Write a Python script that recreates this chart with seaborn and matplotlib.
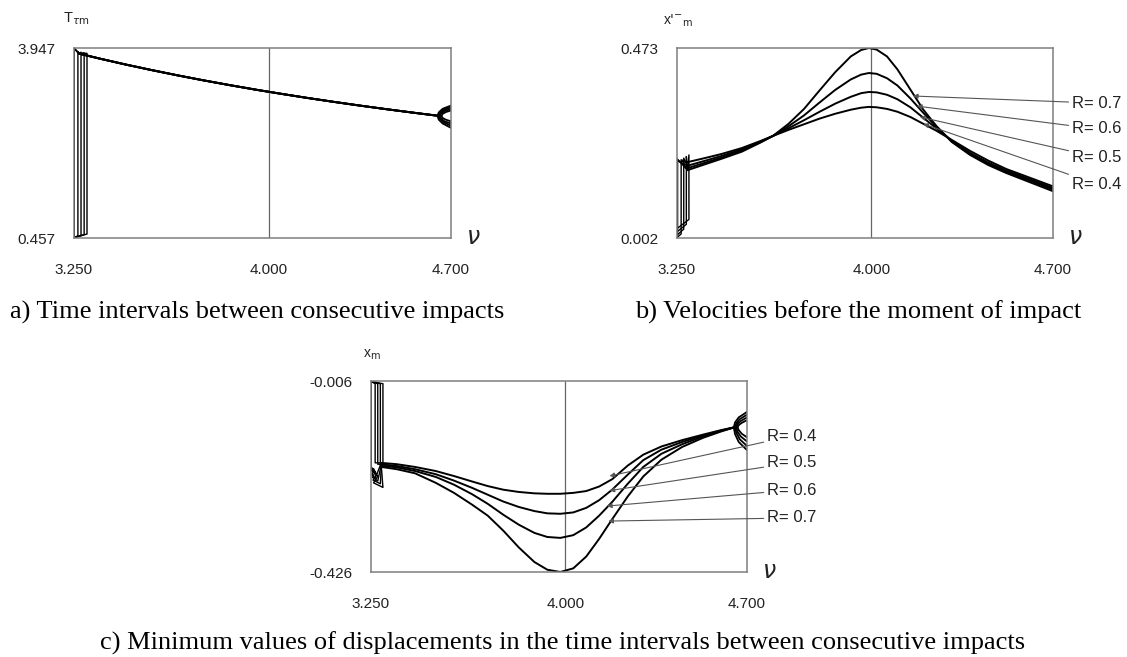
import numpy as np
import pandas as pd
import matplotlib
matplotlib.use("Agg")
import matplotlib.pyplot as plt
import seaborn as sns

sns.set_theme(style="white")
plt.rcParams['font.family'] = ['Liberation Sans', 'DejaVu Sans']

R_values = [0.4, 0.5, 0.6, 0.7]
R_labels = ["R= 0.4", "R= 0.5", "R= 0.6", "R= 0.7"]

# ---------- panel a : time intervals ----------
a_xticks = [3.25, 4.0, 4.7]
a_xticklabels = ["3.250", "4.000", "4.700"]
a_yticks = [0.457, 3.947]
a_yticklabels = ["0.457", "3.947"]
a_nu = [3.27, 3.35, 3.45, 3.55, 3.65, 3.75, 3.85, 3.95, 4.05, 4.15, 4.25, 4.35, 4.45, 4.55, 4.65]
a_T = [3.843, 3.751, 3.642, 3.540, 3.443, 3.351, 3.264, 3.181, 3.103, 3.028, 2.957, 2.889, 2.824, 2.762, 2.702]
# left fold loops (one per R)
a_loop_nu = [[3.270, 3.265, 3.265, 3.2505, 3.2505, 3.270],
             [3.270, 3.277, 3.277, 3.2505, 3.2505, 3.270],
             [3.270, 3.289, 3.289, 3.2505, 3.2505, 3.270],
             [3.270, 3.300, 3.300, 3.2505, 3.2505, 3.270]]
a_loop_T = [[3.843, 3.88, 0.50, 0.460, 3.940, 3.843],
            [3.843, 3.87, 0.51, 0.460, 3.940, 3.843],
            [3.843, 3.86, 0.52, 0.460, 3.940, 3.843],
            [3.843, 3.85, 0.53, 0.460, 3.940, 3.843]]
# right end arcs (one per R)
a_arc_nu = [[4.700, 4.680, 4.667, 4.664, 4.667, 4.680, 4.700],
            [4.700, 4.675, 4.662, 4.658, 4.662, 4.675, 4.700],
            [4.700, 4.672, 4.658, 4.653, 4.658, 4.672, 4.700],
            [4.700, 4.668, 4.653, 4.648, 4.653, 4.668, 4.700]]
a_arc_T = [[2.80, 2.77, 2.735, 2.70, 2.665, 2.63, 2.60],
           [2.83, 2.79, 2.745, 2.70, 2.650, 2.60, 2.56],
           [2.86, 2.81, 2.755, 2.70, 2.640, 2.58, 2.52],
           [2.89, 2.83, 2.765, 2.70, 2.630, 2.56, 2.48]]

# ---------- panel b : velocities ----------
b_yticks = [0.002, 0.473]
b_yticklabels = ["0.002", "0.473"]
b_nu = [3.29, 3.35, 3.42, 3.50, 3.57, 3.62, 3.68, 3.74, 3.80, 3.86, 3.92, 3.96, 3.99,
        4.02, 4.06, 4.10, 4.15, 4.20, 4.25, 4.31, 4.38, 4.45, 4.52, 4.60, 4.70]
b_R04 = [0.190, 0.199, 0.210, 0.225, 0.242, 0.255, 0.270, 0.284, 0.298, 0.310, 0.320, 0.325, 0.327,
         0.326, 0.322, 0.315, 0.302, 0.285, 0.268, 0.245, 0.218, 0.194, 0.173, 0.154, 0.130]
b_R05 = [0.181, 0.192, 0.205, 0.222, 0.240, 0.255, 0.274, 0.294, 0.315, 0.335, 0.352, 0.361, 0.364,
         0.363, 0.357, 0.346, 0.326, 0.300, 0.274, 0.243, 0.213, 0.189, 0.169, 0.150, 0.126]
b_R06 = [0.175, 0.187, 0.201, 0.219, 0.239, 0.255, 0.279, 0.306, 0.338, 0.369, 0.395, 0.407, 0.411,
         0.409, 0.398, 0.380, 0.348, 0.312, 0.278, 0.241, 0.210, 0.186, 0.166, 0.147, 0.122]
b_R07 = [0.170, 0.183, 0.198, 0.216, 0.238, 0.255, 0.285, 0.322, 0.368, 0.413, 0.452, 0.468, 0.473,
         0.469, 0.452, 0.420, 0.370, 0.320, 0.280, 0.240, 0.208, 0.183, 0.163, 0.143, 0.118]
b_loop_nu = [[3.29, 3.266, 3.266, 3.2515, 3.2515, 3.29],
             [3.29, 3.276, 3.276, 3.2515, 3.2515, 3.29],
             [3.29, 3.286, 3.286, 3.2515, 3.2515, 3.29],
             [3.29, 3.296, 3.296, 3.2515, 3.2515, 3.29]]
b_loop_v = [[0.190, 0.196, 0.012, 0.004, 0.192, 0.190],
            [0.181, 0.200, 0.024, 0.010, 0.194, 0.181],
            [0.175, 0.204, 0.036, 0.018, 0.196, 0.175],
            [0.170, 0.208, 0.048, 0.026, 0.198, 0.170]]
b_label_tip_nu = [4.20, 4.187, 4.175, 4.16]
b_label_tip_v = [0.285, 0.302, 0.329, 0.354]
b_label_y = [0.284, 0.426, 0.574, 0.710]

# ---------- panel c : displacements ----------
c_yticks = [-0.426, -0.006]
c_yticklabels = ["-0.426", "-0.006"]
c_nu = [3.29, 3.35, 3.42, 3.50, 3.57, 3.64, 3.70, 3.76, 3.82, 3.88, 3.93, 3.98,
        4.03, 4.08, 4.13, 4.18, 4.24, 4.30, 4.37, 4.45, 4.53, 4.60, 4.65]
c_R04 = [-0.186, -0.189, -0.195, -0.204, -0.215, -0.227, -0.237, -0.245, -0.250, -0.253, -0.254, -0.254,
         -0.252, -0.248, -0.238, -0.222, -0.192, -0.168, -0.150, -0.136, -0.124, -0.114, -0.108]
c_R05 = [-0.189, -0.193, -0.200, -0.211, -0.225, -0.241, -0.256, -0.271, -0.283, -0.292, -0.297, -0.298,
         -0.295, -0.285, -0.268, -0.245, -0.212, -0.180, -0.157, -0.140, -0.126, -0.115, -0.108]
c_R06 = [-0.192, -0.196, -0.204, -0.217, -0.234, -0.255, -0.276, -0.300, -0.322, -0.340, -0.349, -0.351,
         -0.345, -0.328, -0.302, -0.272, -0.232, -0.195, -0.166, -0.145, -0.128, -0.116, -0.108]
c_R07 = [-0.195, -0.200, -0.209, -0.230, -0.252, -0.278, -0.302, -0.335, -0.372, -0.404, -0.421, -0.426,
         -0.418, -0.392, -0.353, -0.310, -0.260, -0.216, -0.179, -0.151, -0.131, -0.117, -0.108]
c_loop_nu = [[3.29, 3.266, 3.266, 3.2505, 3.2505, 3.262, 3.254, 3.266, 3.29],
             [3.29, 3.276, 3.276, 3.2505, 3.2505, 3.267, 3.256, 3.276, 3.29],
             [3.29, 3.286, 3.286, 3.2505, 3.2505, 3.272, 3.258, 3.286, 3.29],
             [3.29, 3.296, 3.296, 3.2505, 3.2505, 3.277, 3.260, 3.296, 3.29]]
c_loop_v = [[-0.186, -0.186, -0.012, -0.007, -0.196, -0.200, -0.212, -0.220, -0.186],
            [-0.189, -0.189, -0.012, -0.007, -0.198, -0.205, -0.218, -0.226, -0.189],
            [-0.192, -0.192, -0.012, -0.007, -0.200, -0.210, -0.224, -0.232, -0.192],
            [-0.195, -0.195, -0.012, -0.007, -0.202, -0.215, -0.230, -0.240, -0.195]]
c_arc_nu = [[4.700, 4.680, 4.668, 4.664, 4.668, 4.680, 4.700],
            [4.700, 4.676, 4.663, 4.659, 4.663, 4.676, 4.700],
            [4.700, 4.672, 4.659, 4.654, 4.659, 4.672, 4.700],
            [4.700, 4.668, 4.654, 4.649, 4.654, 4.668, 4.700]]
c_arc_v = [[-0.092, -0.098, -0.103, -0.108, -0.114, -0.122, -0.130],
           [-0.086, -0.094, -0.101, -0.108, -0.117, -0.128, -0.139],
           [-0.080, -0.090, -0.099, -0.108, -0.120, -0.134, -0.149],
           [-0.074, -0.086, -0.097, -0.108, -0.123, -0.140, -0.158]]
c_label_tip_nu = [4.17, 4.17, 4.16, 4.165]
c_label_tip_v = [-0.215, -0.247, -0.281, -0.314]
c_label_y = [0.712, 0.571, 0.429, 0.283]

captions = ["a) Time intervals between consecutive impacts",
            "b) Velocities before the moment of impact",
            "c) Minimum values of displacements in the time intervals between consecutive impacts"]

W, H = 1127, 657
fig = plt.figure(figsize=(W / 100, H / 100), dpi=100)


def px_axes(l, r, t, b):
    return fig.add_axes([l / W, 1 - b / H, (r - l) / W, (b - t) / H])


ax_a = px_axes(74, 451, 48, 238)
ax_b = px_axes(677, 1053, 48, 238)
ax_c = px_axes(371, 747, 381, 572)

LINE = dict(color="black", sort=False, estimator=None, legend=False)


def draw(ax, x, y, lw=1.4):
    sns.lineplot(x=x, y=y, ax=ax, lw=lw, **LINE)


def style(ax, yticks, yticklabels, ylim):
    ax.set_xlim(3.25, 4.70)
    ax.set_ylim(*ylim)
    ax.set_xticks(a_xticks)
    ax.set_xticklabels(a_xticklabels)
    ax.set_yticks(yticks)
    ax.set_yticklabels(yticklabels)
    ax.tick_params(axis="x", length=0, pad=18, labelsize=11, colors="#222222")
    ax.tick_params(axis="y", length=0, pad=13.5, labelsize=11, colors="#222222")
    ax.set_xlabel("")
    ax.set_ylabel("")
    for s in ax.spines.values():
        s.set_color("#7f7f7f")
        s.set_linewidth(1.1)
    ax.axvline(4.0, color="#666666", lw=0.9, zorder=0)
    ax.text(1.04, 0.0, r"$\nu$", transform=ax.transAxes, fontsize=17,
            ha="left", va="center", color="#222222")


# panel a
for i in range(4):
    draw(ax_a, a_nu, a_T)
    draw(ax_a, a_loop_nu[i], a_loop_T[i], lw=1.0)
    draw(ax_a, a_arc_nu[i], a_arc_T[i], lw=1.3)
style(ax_a, a_yticks, a_yticklabels, (0.457, 3.947))
ax_a.text(-0.03, 1.155, r"T$_{\tau\mathrm{m}}$", transform=ax_a.transAxes, fontsize=10.5,
          ha="left", va="center", color="#222222")

# panel b
b_curves = [b_R04, b_R05, b_R06, b_R07]
for i in range(4):
    draw(ax_b, b_nu, b_curves[i])
    draw(ax_b, b_loop_nu[i], b_loop_v[i], lw=1.0)
style(ax_b, b_yticks, b_yticklabels, (0.002, 0.473))
ax_b.text(-0.038, 1.145, r"x$'^{-}$$_{\mathrm{m}}$", transform=ax_b.transAxes, fontsize=10,
          ha="left", va="center", color="#222222")
for i in range(4):
    ax_b.annotate(R_labels[i], xy=(b_label_tip_nu[i], b_label_tip_v[i]), xycoords="data",
                  xytext=(1.05, b_label_y[i]), textcoords="axes fraction",
                  fontsize=12, ha="left", va="center", color="#222222",
                  arrowprops=dict(arrowstyle="-|>", color="#555555", lw=0.8,
                                  mutation_scale=7, shrinkA=0, shrinkB=0),
                  annotation_clip=False)

# panel c
c_curves = [c_R04, c_R05, c_R06, c_R07]
for i in range(4):
    draw(ax_c, c_nu, c_curves[i])
    draw(ax_c, c_loop_nu[i], c_loop_v[i], lw=1.0)
    draw(ax_c, c_arc_nu[i], c_arc_v[i], lw=1.3)
style(ax_c, c_yticks, c_yticklabels, (-0.426, -0.006))
ax_c.text(-0.022, 1.135, r"x$_{\mathrm{m}}$", transform=ax_c.transAxes, fontsize=10,
          ha="left", va="center", color="#222222")
for i in range(4):
    ax_c.annotate(R_labels[i], xy=(c_label_tip_nu[i], c_label_tip_v[i]), xycoords="data",
                  xytext=(1.053, c_label_y[i]), textcoords="axes fraction",
                  fontsize=12, ha="left", va="center", color="#222222",
                  arrowprops=dict(arrowstyle="-|>", color="#555555", lw=0.8,
                                  mutation_scale=7, shrinkA=0, shrinkB=0),
                  annotation_clip=False)

cap_font = dict(family="Liberation Serif", fontsize=19, color="black", va="center")
fig.text(10 / W, 1 - 312 / H, captions[0], ha="left", **cap_font)
fig.text(635 / W, 1 - 312 / H, captions[1], ha="left", **cap_font)
fig.text(563 / W, 1 - 643 / H, captions[2], ha="center", **cap_font)

fig.savefig("out.png", dpi=100)
